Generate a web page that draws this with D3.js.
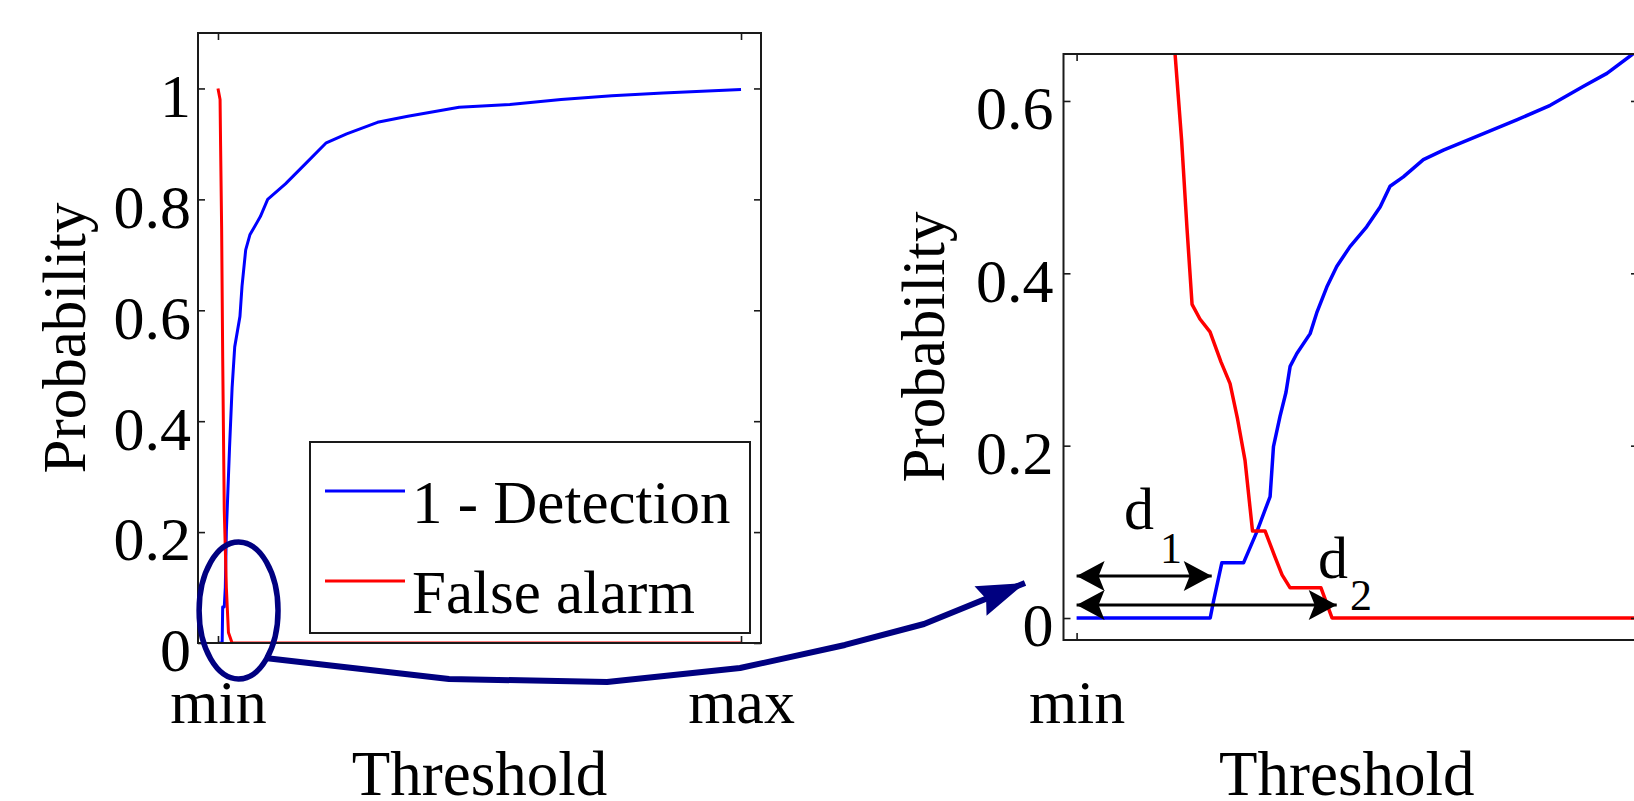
<!DOCTYPE html>
<html>
<head>
<meta charset="utf-8">
<script src="https://cdn.jsdelivr.net/npm/d3@7/dist/d3.min.js"></script>
<style>
  html, body { margin: 0; padding: 0; background: #fff; }
  svg { display: block; }
  text { font-family: "Liberation Serif", "Times New Roman", serif; fill: #000; }
</style>
</head>
<body>
<svg id="chart" width="1634" height="801"></svg>
<script>
// ---------------- DATA ----------------
// Left panel (full threshold range, min = 0, max = 100)
const xTickValuesL = [0, 100];
const xTickLabelsL = ["min", "max"];
const yTickValuesL = [0, 0.2, 0.4, 0.6, 0.8, 1];
const yTickLabelsL = ["0", "0.2", "0.4", "0.6", "0.8", "1"];

const detThresholdL = [0, 0.8, 0.9, 1.2, 1.4, 1.6, 2.2, 2.7, 3.2, 4.2, 4.6, 5.3, 6.1, 8.1, 9.5, 12.9, 16.8, 20.7, 24.6, 30.5, 36.3, 46.1, 55.8, 65.6, 75.3, 85.1, 100];
const detValueL     = [0, 0, 0.065, 0.065, 0.10, 0.20, 0.35, 0.46, 0.534, 0.589, 0.644, 0.709, 0.736, 0.769, 0.80, 0.828, 0.865, 0.902, 0.918, 0.939, 0.950, 0.966, 0.971, 0.980, 0.987, 0.992, 0.998];

const faThresholdL = [0, 0.4, 0.5, 0.7, 0.9, 1.2, 1.6, 2.0, 2.7, 100];
const faValueL     = [1.0, 0.98, 0.897, 0.746, 0.516, 0.24, 0.10, 0.019, 0, 0];

const legendLabels = ["1 - Detection", "False alarm"];
const seriesColors = ["#0000ff", "#ff0000"];

// Right panel (zoom near the minimum threshold)
const xTickValuesR = [0];
const xTickLabelsR = ["min"];
const yTickValuesR = [0, 0.2, 0.4, 0.6];
const yTickLabelsR = ["0", "0.2", "0.4", "0.6"];

const detThresholdR = [0, 7.14, 7.32, 7.76, 8.92, 9.63, 10.34, 10.52, 10.87, 11.19, 11.41, 11.77, 12.48, 12.83, 13.37, 13.90, 14.61, 15.50, 16.22, 16.75, 17.46, 18.53, 19.60, 21.74, 23.52, 25.31, 27.09, 28.34, 29.63, 30.2];
const detValueR     = [0, 0, 0.02, 0.064, 0.064, 0.100, 0.141, 0.199, 0.234, 0.262, 0.292, 0.307, 0.330, 0.354, 0.384, 0.408, 0.431, 0.454, 0.477, 0.501, 0.512, 0.532, 0.543, 0.562, 0.578, 0.595, 0.617, 0.632, 0.653, 0.662];

const faThresholdR = [4.94, 5.26, 5.61, 5.90, 6.17, 6.59, 7.13, 7.72, 8.20, 8.60, 9.00, 9.40, 10.07, 10.60, 10.98, 11.41, 13.06, 13.55, 13.65, 30.5];
const faValueR     = [0.75, 0.655, 0.555, 0.452, 0.364, 0.347, 0.332, 0.297, 0.272, 0.231, 0.183, 0.101, 0.101, 0.071, 0.050, 0.035, 0.035, 0.006, 0, 0];

// distance arrows d1, d2 in the right panel
const distLabels = ["1", "2"];
const distLevel  = [0.0487, 0.0151];
const distEnd    = [7.22, 13.9];

// annotation (normalized figure units, origin bottom-left)
const ellipseCenter = [0.1460, 0.2378];
const ellipseSize   = [0.0483, 0.171];
const connectorX = [0.1622, 0.2748, 0.3715, 0.4529, 0.5171, 0.5655, 0.6273];
const connectorY = [0.1785, 0.1523, 0.1486, 0.1660, 0.1948, 0.2210, 0.2722];

// ---------------- DRAWING ----------------
const W = 1634, H = 801;
const svg = d3.select("#chart");
const FONT = 62;
const AX = "#1a1a1a";

const figX = d3.scaleLinear().domain([0, 1]).range([0, W]);
const figY = d3.scaleLinear().domain([0, 1]).range([H, 0]);

const defs = svg.append("defs");
// black double-arrow head
defs.append("marker")
  .attr("id", "blackHead")
  .attr("markerUnits", "userSpaceOnUse")
  .attr("viewBox", "-30 -16 32 32")
  .attr("refX", 0).attr("refY", 0)
  .attr("markerWidth", 32).attr("markerHeight", 32)
  .attr("orient", "auto-start-reverse")
  .append("path")
  .attr("d", "M0,0 L-28,-15 L-22,0 L-28,15 Z")
  .attr("fill", "#000");
// navy arrow head
defs.append("marker")
  .attr("id", "navyHead")
  .attr("markerUnits", "userSpaceOnUse")
  .attr("viewBox", "-52 -18 54 36")
  .attr("refX", 0).attr("refY", 0)
  .attr("markerWidth", 54).attr("markerHeight", 36)
  .attr("orient", "auto")
  .append("path")
  .attr("d", "M0,0 L-48,-16 L-42,0 L-48,16 Z")
  .attr("fill", "#000080");

function zip(xs, ys) { return xs.map((x, i) => [x, ys[i]]); }

function panel(cfg) {
  const { x, y, id } = cfg;
  const [x0, x1] = x.range();
  const [y0, y1] = y.range(); // y0 bottom, y1 top
  const g = svg.append("g");

  defs.append("clipPath").attr("id", id)
    .append("rect").attr("x", x0).attr("y", y1).attr("width", x1 - x0).attr("height", y0 - y1);

  // data
  const line = d3.line().x(d => x(d[0])).y(d => y(d[1]));
  const dataG = g.append("g").attr("clip-path", `url(#${id})`);
  cfg.series.forEach((s, i) => {
    dataG.append("path")
      .attr("d", line(s))
      .attr("fill", "none")
      .attr("stroke", seriesColors[i])
      .attr("stroke-width", cfg.lw)
      .attr("stroke-linejoin", "round");
  });

  // axes with inward ticks
  const tick = 7;
  const styleAxis = sel => {
    sel.select(".domain").remove();
    sel.selectAll(".tick line").attr("stroke", AX).attr("stroke-width", 1.6);
    sel.selectAll("text").style("font-size", FONT + "px").style("font-family", "'Liberation Serif', serif").attr("fill", "#000");
  };
  const yl = cfg.yTickLabels;
  g.append("g").attr("transform", `translate(${x0},0)`)
    .call(d3.axisLeft(y).tickValues(cfg.yTicks).tickFormat((d, i) => yl[i]).tickSizeInner(-tick).tickSizeOuter(0).tickPadding(cfg.yPad))
    .call(styleAxis)
    .call(s => s.selectAll("text").attr("dy", "0.45em"));
  g.append("g").attr("transform", `translate(${x1},0)`)
    .call(d3.axisRight(y).tickValues(cfg.yTicks).tickFormat("").tickSizeInner(-tick).tickSizeOuter(0))
    .call(styleAxis);
  const xl = cfg.xTickLabels;
  g.append("g").attr("transform", `translate(0,${y0})`)
    .call(d3.axisBottom(x).tickValues(cfg.xTicks).tickFormat((d, i) => xl[i]).tickSizeInner(-tick).tickSizeOuter(0))
    .call(styleAxis)
    .call(s => s.selectAll("text").attr("y", cfg.xLabelY - y0).attr("dy", 0));
  g.append("g").attr("transform", `translate(0,${y1})`)
    .call(d3.axisTop(x).tickValues(cfg.xTicks).tickFormat("").tickSizeInner(-tick).tickSizeOuter(0))
    .call(styleAxis);

  // box
  g.append("rect")
    .attr("x", x0).attr("y", y1).attr("width", x1 - x0).attr("height", y0 - y1)
    .attr("fill", "none").attr("stroke", AX).attr("stroke-width", 2);

  // axis titles
  g.append("text")
    .attr("transform", `translate(${cfg.yTitleX},${(y0 + y1) / 2}) rotate(-90)`)
    .attr("text-anchor", "middle")
    .style("font-size", "61px")
    .text("Probability");
  g.append("text")
    .attr("x", (x0 + x1) / 2 - cfg.xTitleShift).attr("y", 795)
    .attr("text-anchor", "middle")
    .style("font-size", "63px")
    .text("Threshold");
  return g;
}

// Left panel
const xL = d3.scaleLinear().domain([-3.82, 103.82]).range([198, 761]);
const yL = d3.scaleLinear().domain([0, 1.1]).range([643, 33]);
const gL = panel({
  id: "clipL", x: xL, y: yL, lw: 3,
  series: [zip(detThresholdL, detValueL), zip(faThresholdL, faValueL)],
  xTicks: xTickValuesL, xTickLabels: xTickLabelsL,
  yTicks: yTickValuesL, yTickLabels: yTickLabelsL,
  yPad: 7, xLabelY: 723, yTitleX: 85, xTitleShift: 0
});

// Legend
const leg = svg.append("g");
leg.append("rect").attr("x", 310).attr("y", 442).attr("width", 440).attr("height", 191)
  .attr("fill", "#fff").attr("stroke", AX).attr("stroke-width", 2);
legendLabels.forEach((lab, i) => {
  const cy = 491 + i * 90;
  leg.append("line").attr("x1", 325).attr("x2", 405).attr("y1", cy).attr("y2", cy)
    .attr("stroke", seriesColors[i]).attr("stroke-width", 3);
  leg.append("text").attr("x", 412).attr("y", cy + 32).style("font-size", "61px").text(lab);
});

// Right panel
const xR = d3.scaleLinear().domain([-0.7, 30]).range([1063.5, 1638]);
const yR = d3.scaleLinear().domain([-0.0255, 0.6545]).range([640, 54]);
const gR = panel({
  id: "clipR", x: xR, y: yR, lw: 3.5,
  series: [zip(detThresholdR, detValueR), zip(faThresholdR, faValueR)],
  xTicks: xTickValuesR, xTickLabels: xTickLabelsR,
  yTicks: yTickValuesR, yTickLabels: yTickLabelsR,
  yPad: 10, xLabelY: 723, yTitleX: 944, xTitleShift: 4
});

// d1 / d2 double arrows
distLevel.forEach((lv, i) => {
  gR.append("line")
    .attr("x1", xR(0)).attr("x2", xR(distEnd[i]))
    .attr("y1", yR(lv)).attr("y2", yR(lv))
    .attr("stroke", "#000").attr("stroke-width", 3)
    .attr("marker-start", "url(#blackHead)")
    .attr("marker-end", "url(#blackHead)");
});
const dPos = [[1124, 529, 1160, 563], [1318, 578, 1350, 610]];
distLabels.forEach((s, i) => {
  gR.append("text").attr("x", dPos[i][0]).attr("y", dPos[i][1]).style("font-size", "60px").text("d");
  gR.append("text").attr("x", dPos[i][2]).attr("y", dPos[i][3]).style("font-size", "44px").text(s);
});

// Annotation: ellipse and connector arrow
svg.append("ellipse")
  .attr("cx", figX(ellipseCenter[0])).attr("cy", figY(ellipseCenter[1]))
  .attr("rx", figX(ellipseSize[0]) / 2).attr("ry", (H - figY(ellipseSize[1])) / 2)
  .attr("fill", "none").attr("stroke", "#000080").attr("stroke-width", 5.5);

svg.append("path")
  .attr("d", d3.line().x(d => figX(d[0])).y(d => figY(d[1]))(zip(connectorX, connectorY)))
  .attr("fill", "none").attr("stroke", "#000080").attr("stroke-width", 6)
  .attr("stroke-linejoin", "round")
  .attr("marker-end", "url(#navyHead)");
</script>
</body>
</html>
